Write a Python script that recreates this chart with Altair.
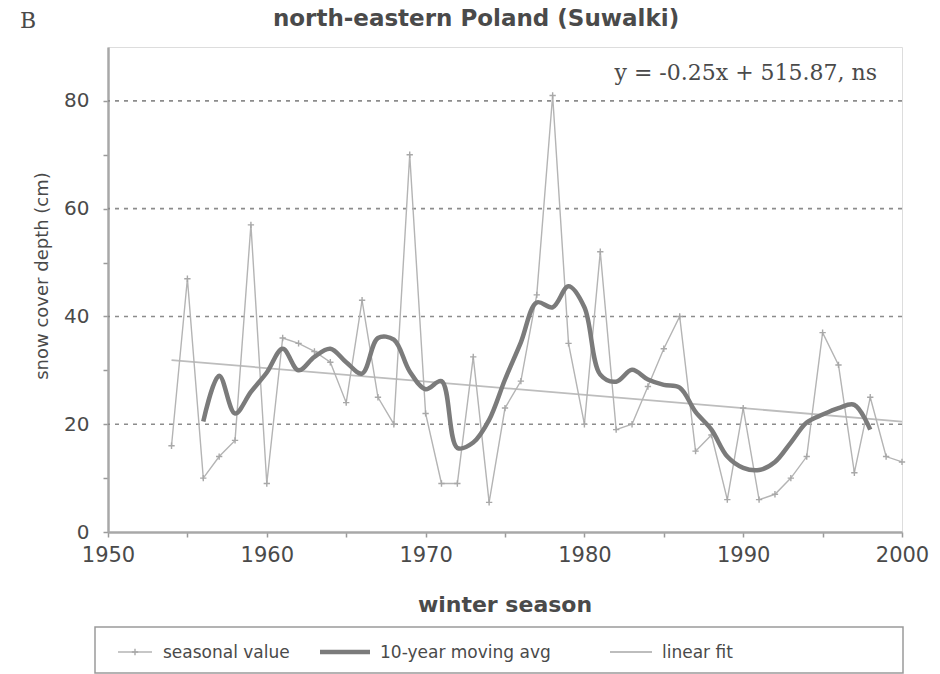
import altair as alt
import pandas as pd

# ---- data -------------------------------------------------------------
seasons = list(range(1954, 2001))
seasonal_depth = [16, 47, 10, 14, 17, 57, 9, 36, 35, 33.5,
                  31.5, 24, 43, 25, 20, 70, 22, 9, 9, 32.5,
                  5.5, 23, 28, 44, 81, 35, 20, 52, 19, 20,
                  27, 34, 40, 15, 18, 6, 23, 6, 7, 10,
                  14, 37, 31, 11, 25, 14, 13]

avg_seasons = list(range(1956, 1999))
moving_avg = [20.5, 29, 22, 26, 29.6, 34, 30, 32.5, 34, 31.5,
              29.4, 36, 35.7, 29.8, 26.5, 28, 15.6, 16.6, 20.8, 28.3,
              35.2, 42.6, 41.7, 45.6, 41.7, 29.2, 27.9, 30.1, 28.3, 27.3,
              26.8, 22.3, 19, 14, 11.9, 11.5, 13, 16.6, 20.3, 21.8,
              23, 23.6, 19]

fit_seasons = [1954, 2000]
fit_depth = [31.9, 20.5]

grid_levels = [20, 40, 60, 80]
x_ticks = list(range(1950, 2001, 5))
y_ticks = list(range(0, 81, 10))

title_text = "north-eastern Poland (Suwalki)"
panel_letter = "B"
equation_text = "y = -0.25x + 515.87, ns"
x_title = "winter season"
y_title = "snow cover depth (cm)"
legend_labels = ["seasonal value", "10-year moving avg", "linear fit"]

# ---- layout (page pixels) --------------------------------------------
LEFT, TOP = 108, 47
W, H = 794, 485
PAGE_W, PAGE_H = 940, 674

def px(x):
    return x - LEFT

def py(y):
    return y - TOP

TEXT = "#4a4a4a"
SANS = "DejaVu Sans"
SERIF = "DejaVu Serif"

seasonal_df = pd.DataFrame({"year": seasons, "depth": seasonal_depth})
avg_df = pd.DataFrame({"year": avg_seasons, "depth": moving_avg})
fit_df = pd.DataFrame({"year": fit_seasons, "depth": fit_depth})
grid_df = pd.DataFrame({"depth": grid_levels})
one = pd.DataFrame({"k": [0]})

x_scale = alt.Scale(domain=[1950, 2000], nice=False, zero=False)
y_scale = alt.Scale(domain=[0, 90], nice=False)

x_enc = alt.X(
    "year:Q", scale=x_scale,
    axis=alt.Axis(values=x_ticks, format="d", title=None, grid=False,
                  labelExpr="datum.value % 10 == 0 ? datum.label : ''",
                  labelFlush=False, labelOverlap=False,
                  labelFont=SANS, labelFontSize=21, labelColor=TEXT,
                  labelPadding=7, tickSize=5, tickColor="#9a9a9a",
                  tickWidth=1.5, domainColor="#a8a8a8", domainWidth=2.5))
y_enc = alt.Y(
    "depth:Q", scale=y_scale,
    axis=alt.Axis(values=y_ticks, title=None, grid=False,
                  labelExpr="datum.value % 20 == 0 ? datum.label : ''",
                  labelFlush=False, labelOverlap=False,
                  labelFont=SANS, labelFontSize=20, labelColor=TEXT,
                  labelPadding=14, tickSize=5, tickColor="#9a9a9a",
                  tickWidth=1.5, domainColor="#a8a8a8", domainWidth=2.5))

grid = alt.Chart(grid_df).mark_rule(
    color="#8c8c8c", strokeWidth=1.6, strokeDash=[4, 5]
).encode(y=alt.Y("depth:Q", scale=y_scale))

fit_line = alt.Chart(fit_df).mark_line(
    color="#bdbdbd", strokeWidth=1.8
).encode(x=x_enc, y=y_enc)

seasonal_line = alt.Chart(seasonal_df).mark_line(
    color="#b4b4b4", strokeWidth=1.4
).encode(x=alt.X("year:Q", scale=x_scale), y=alt.Y("depth:Q", scale=y_scale))

plus = "M -1 0 L 1 0 M 0 -1 L 0 1"
seasonal_pts = alt.Chart(seasonal_df).mark_point(
    shape=plus, size=40, filled=False, color="#a8a8a8", strokeWidth=1.4, opacity=1
).encode(x=alt.X("year:Q", scale=x_scale), y=alt.Y("depth:Q", scale=y_scale))

avg_line = alt.Chart(avg_df).mark_line(
    color="#7b7b7b", strokeWidth=4.5, interpolate="catmull-rom"
).encode(x=alt.X("year:Q", scale=x_scale), y=alt.Y("depth:Q", scale=y_scale))


def label(text, x, y, size, font=SANS, weight="normal", align="left", angle=0,
          color=TEXT):
    kw = dict(text=text, font=font, fontSize=size, fontWeight=weight,
              align=align, baseline="middle", color=color)
    if angle:
        kw["angle"] = angle
    return alt.Chart(one).mark_text(**kw).encode(
        x=alt.value(px(x)), y=alt.value(py(y)))


def seg(x1, x2, y, color, width):
    return alt.Chart(one).mark_rule(color=color, strokeWidth=width).encode(
        x=alt.value(px(x1)), x2=alt.value(px(x2)), y=alt.value(py(y)))


texts = [
    label(panel_letter, 28, 21, 22, font=SERIF, align="center"),
    label(title_text, 476, 19, 23, weight="bold", align="center"),
    label(equation_text, 877, 73, 22, font=SERIF, align="right"),
    label(x_title, 505, 605, 22, weight="bold", align="center"),
    label(y_title, 43, 276, 18, align="center", angle=270),
]

# legend box with its three entries
legend_box = alt.Chart(one).mark_rect(
    fill="white", stroke="#9a9a9a", strokeWidth=1.5
).encode(x=alt.value(px(95)), x2=alt.value(px(903)),
         y=alt.value(py(627)), y2=alt.value(py(673)))
legend_marker = alt.Chart(one).mark_point(
    shape=plus, size=40, filled=False, color="#a8a8a8", strokeWidth=1.4, opacity=1
).encode(x=alt.value(px(135)), y=alt.value(py(652)))
legend = [
    legend_box,
    seg(118, 152, 652, "#b4b4b4", 1.4),
    legend_marker,
    label(legend_labels[0], 163, 653, 17),
    seg(320, 370, 652, "#7b7b7b", 4.5),
    label(legend_labels[1], 380, 653, 17),
    seg(610, 652, 652, "#bdbdbd", 1.8),
    label(legend_labels[2], 662, 653, 17),
]

chart = alt.layer(
    grid, fit_line, seasonal_line, seasonal_pts, avg_line, *texts, *legend
).properties(
    width=W, height=H,
    autosize=alt.AutoSizeParams(type="none"),
    padding={"left": LEFT, "top": TOP,
             "right": PAGE_W - LEFT - W, "bottom": PAGE_H - TOP - H},
).configure_view(
    stroke="#cfcfcf", strokeWidth=2.5
).configure(background="white")

chart.save("out.html", embed_options={"renderer": "svg", "actions": False})
